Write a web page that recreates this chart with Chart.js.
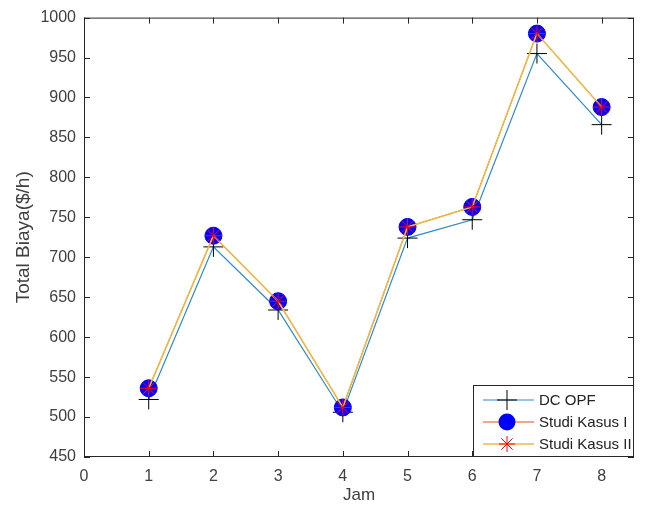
<!DOCTYPE html>
<html>
<head>
<meta charset="utf-8">
<script src="https://cdn.jsdelivr.net/npm/chart.js@4"></script>
<style>
  html, body { margin: 0; padding: 0; background: #fff; }
  #wrap { width: 645px; height: 510px; }
</style>
</head>
<body>
<div id="wrap"><canvas id="canvas" width="645" height="510"></canvas></div>
<script>
// values
const jam = [1, 2, 3, 4, 5, 6, 7, 8];
const dcOpf = [522, 713, 634, 506, 724, 747, 955, 866];
const kasus1 = [536, 727, 645, 512, 738, 763, 980, 888];
const kasus2 = [536, 727, 645, 512, 738, 763, 980, 888];
const xTicks = [0, 1, 2, 3, 4, 5, 6, 7, 8];
const yTicks = [450, 500, 550, 600, 650, 700, 750, 800, 850, 900, 950, 1000];

const textColor = '#404040';
const font = 'Liberation Sans, Arial, Helvetica, sans-serif';

const toXY = (vals) => vals.map((v, i) => ({ x: jam[i], y: v }));

// matlab style box with inward ticks + legend in the lower right
const matlabAxes = {
  id: 'matlabAxes',
  afterDatasetsDraw(chart) {
    const { ctx, chartArea: a, scales } = chart;
    ctx.save();
    ctx.strokeStyle = '#262626';
    ctx.lineWidth = 1;
    ctx.strokeRect(a.left + 0.5, a.top + 0.5, a.right - a.left - 1, a.bottom - a.top - 1);
    ctx.beginPath();
    const tl = 6;
    xTicks.forEach(v => {
      const px = Math.round(scales.x.getPixelForValue(v)) + 0.5;
      ctx.moveTo(px, a.bottom); ctx.lineTo(px, a.bottom - tl);
      ctx.moveTo(px, a.top); ctx.lineTo(px, a.top + tl);
    });
    yTicks.forEach(v => {
      const py = Math.round(scales.y.getPixelForValue(v)) + 0.5;
      ctx.moveTo(a.left, py); ctx.lineTo(a.left + tl, py);
      ctx.moveTo(a.right, py); ctx.lineTo(a.right - tl, py);
    });
    ctx.stroke();

    // legend
    const bx = 473, by = 385, bw = a.right - bx, bh = a.bottom - by;
    ctx.fillStyle = '#fff';
    ctx.fillRect(bx, by, bw, bh);
    ctx.strokeStyle = '#262626';
    ctx.strokeRect(bx + 0.5, by + 0.5, bw - 1, bh - 1);
    ctx.font = '15px ' + font;
    ctx.textBaseline = 'middle';
    chart.data.datasets.forEach((ds, i) => {
      const yy = by + 15 + i * 22;
      const mx = 507;
      ctx.strokeStyle = ds.borderColor;
      ctx.lineWidth = ds.borderWidth;
      ctx.beginPath();
      ctx.moveTo(483, yy); ctx.lineTo(534, yy);
      ctx.stroke();
      ctx.save();
      ctx.strokeStyle = ds.pointBorderColor;
      ctx.fillStyle = ds.pointBackgroundColor;
      ctx.lineWidth = ds.pointBorderWidth;
      ctx.beginPath();
      const r = ds.pointRadius;
      if (ds.pointStyle === 'circle') {
        ctx.arc(mx, yy, r, 0, Math.PI * 2);
        ctx.fill();
      } else if (ds.pointStyle === 'cross') {
        ctx.moveTo(mx - r, yy); ctx.lineTo(mx + r, yy);
        ctx.moveTo(mx, yy - r); ctx.lineTo(mx, yy + r);
        ctx.stroke();
      } else {
        for (let k = 0; k < 4; k++) {
          const ang = k * Math.PI / 4;
          ctx.moveTo(mx - r * Math.cos(ang), yy - r * Math.sin(ang));
          ctx.lineTo(mx + r * Math.cos(ang), yy + r * Math.sin(ang));
        }
        ctx.stroke();
      }
      ctx.restore();
      ctx.fillStyle = '#222';
      ctx.fillText(ds.label, 539, yy + 1);
    });
    ctx.restore();
  }
};

new Chart(document.getElementById('canvas'), {
  type: 'line',
  data: {
    datasets: [
      {
        label: 'DC OPF',
        data: toXY(dcOpf),
        borderColor: '#2F8AC8',
        borderWidth: 1.2,
        pointStyle: 'cross',
        pointRadius: 10,
        pointBorderColor: '#000000',
        pointBackgroundColor: '#000000',
        pointBorderWidth: 1,
        order: 3
      },
      {
        label: 'Studi Kasus I',
        data: toXY(kasus1),
        borderColor: '#D95319',
        borderWidth: 1,
        pointStyle: 'circle',
        pointRadius: 8.5,
        pointBorderColor: '#0000FF',
        pointBackgroundColor: '#0000FF',
        pointBorderWidth: 1,
        order: 2
      },
      {
        label: 'Studi Kasus II',
        data: toXY(kasus2),
        borderColor: '#EDB94A',
        borderWidth: 1.6,
        pointStyle: 'star',
        pointRadius: 8,
        pointBorderColor: '#FF0000',
        pointBackgroundColor: '#FF0000',
        pointBorderWidth: 1,
        order: 1
      }
    ]
  },
  options: {
    responsive: false,
    animation: false,
    layout: { padding: { left: 0, right: 8, top: 16, bottom: 0 } },
    plugins: {
      legend: { display: false },
      tooltip: { enabled: false }
    },
    elements: { line: { tension: 0 } },
    scales: {
      x: {
        type: 'linear',
        min: 0,
        max: 8.5,
        afterBuildTicks: (s) => { s.ticks = xTicks.map(v => ({ value: v })); },
        afterFit: (s) => { s.height = 53; },
        grid: { display: false, drawTicks: false },
        border: { display: false },
        ticks: { color: textColor, font: { family: font, size: 16 }, padding: 10, maxRotation: 0, callback: (v) => String(v) },
        title: { display: true, text: 'Jam', color: textColor, font: { family: font, size: 17 }, padding: { top: 5 } }
      },
      y: {
        type: 'linear',
        min: 450,
        max: 1000,
        afterBuildTicks: (s) => { s.ticks = yTicks.map(v => ({ value: v })); },
        afterFit: (s) => { s.width = 84; },
        grid: { display: false, drawTicks: false },
        border: { display: false },
        ticks: { color: textColor, font: { family: font, size: 16 }, padding: 8, callback: (v) => String(v) },
        title: { display: true, text: 'Total Biaya($/h)', color: textColor, font: { family: font, size: 19 }, padding: { top: 12, bottom: 0 } }
      }
    }
  },
  plugins: [matlabAxes]
});
</script>
</body>
</html>
